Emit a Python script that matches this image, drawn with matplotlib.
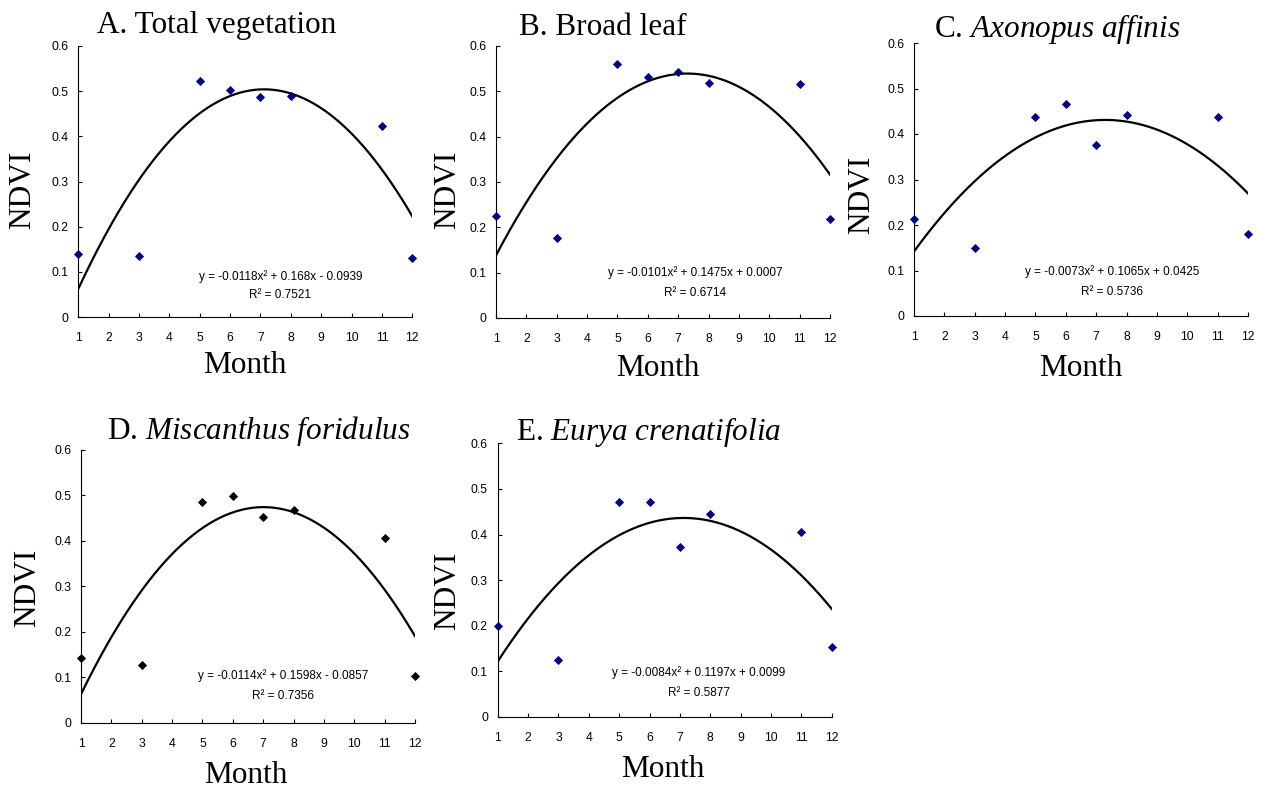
import numpy as np
import matplotlib
matplotlib.use('Agg')
import matplotlib.pyplot as plt

plt.rcParams['font.family'] = ['Liberation Sans', 'DejaVu Sans']
plt.rcParams['mathtext.fontset'] = 'custom'
plt.rcParams['mathtext.rm'] = 'Liberation Serif'
plt.rcParams['mathtext.it'] = 'Liberation Serif:italic'

# ---------------- data ----------------
months = [1, 3, 5, 6, 7, 8, 11, 12]
ndvi_total = [0.140, 0.136, 0.523, 0.502, 0.486, 0.490, 0.423, 0.130]
ndvi_broadleaf = [0.226, 0.176, 0.560, 0.532, 0.543, 0.519, 0.516, 0.218]
ndvi_axonopus = [0.213, 0.150, 0.437, 0.467, 0.375, 0.442, 0.437, 0.180]
ndvi_miscanthus = [0.142, 0.128, 0.485, 0.498, 0.452, 0.468, 0.406, 0.103]
ndvi_eurya = [0.200, 0.124, 0.472, 0.472, 0.372, 0.445, 0.405, 0.154]

coef_total = [-0.0118, 0.168, -0.0939]
coef_broadleaf = [-0.0101, 0.1475, 0.0007]
coef_axonopus = [-0.0073, 0.1065, 0.0425]
coef_miscanthus = [-0.0114, 0.1598, -0.0857]
coef_eurya = [-0.0084, 0.1197, 0.0099]

eq_total = "y = -0.0118x² + 0.168x - 0.0939"
eq_broadleaf = "y = -0.0101x² + 0.1475x + 0.0007"
eq_axonopus = "y = -0.0073x² + 0.1065x + 0.0425"
eq_miscanthus = "y = -0.0114x² + 0.1598x - 0.0857"
eq_eurya = "y = -0.0084x² + 0.1197x + 0.0099"

r2_total = "R² = 0.7521"
r2_broadleaf = "R² = 0.6714"
r2_axonopus = "R² = 0.5736"
r2_miscanthus = "R² = 0.7356"
r2_eurya = "R² = 0.5877"

titles = ["A. Total vegetation",
          "B. Broad leaf",
          "C. $\\mathit{Axonopus\\ affinis}$",
          "D. $\\mathit{Miscanthus\\ foridulus}$",
          "E. $\\mathit{Eurya\\ crenatifolia}$"]

x_ticks = list(range(1, 13))
y_ticks = [0, 0.1, 0.2, 0.3, 0.4, 0.5, 0.6]
y_ticklabels = ["0", "0.1", "0.2", "0.3", "0.4", "0.5", "0.6"]

# ---------------- layout ----------------
W, H = 1268, 791
fig = plt.figure(figsize=(W / 100, H / 100), dpi=100)

panels = [
    # (left px, top px, bottom px, values, coefs, eq, r2, color, eq pos, title pos, ndvi pos, month pos)
    dict(l=78.3, t=46, b=317, v=ndvi_total, c=coef_total, eq=eq_total, r2=r2_total, col='#000080',
         eqp=(0.605, 0.148, 0.081), tp=(216.7, 33.3), np_=(23, 190), mp=(245, 373)),
    dict(l=496, t=46, b=318, v=ndvi_broadleaf, c=coef_broadleaf, eq=eq_broadleaf, r2=r2_broadleaf, col='#000080',
         eqp=(0.596, 0.167, 0.093), tp=(602.5, 35), np_=(447.5, 190), mp=(658, 376)),
    dict(l=914, t=43, b=316, v=ndvi_axonopus, c=coef_axonopus, eq=eq_axonopus, r2=r2_axonopus, col='#000080',
         eqp=(0.593, 0.162, 0.089), tp=(1057, 36.7), np_=(862, 195), mp=(1081, 376)),
    dict(l=81, t=450, b=722.7, v=ndvi_miscanthus, c=coef_miscanthus, eq=eq_miscanthus, r2=r2_miscanthus, col='#000000',
         eqp=(0.605, 0.171, 0.098), tp=(259, 439.3), np_=(28, 587.5), mp=(246, 783)),
    dict(l=497.7, t=443.4, b=716.7, v=ndvi_eurya, c=coef_eurya, eq=eq_eurya, r2=r2_eurya, col='#000080',
         eqp=(0.602, 0.161, 0.088), tp=(649, 440), np_=(447.5, 591), mp=(662.5, 776.7)),
]

axw = 334
xs = np.linspace(1, 12, 300)
for p, title in zip(panels, titles):
    ax = fig.add_axes([p['l'] / W, 1 - p['b'] / H, axw / W, (p['b'] - p['t']) / H])
    ax.plot(xs, np.polyval(p['c'], xs), color='black', lw=1.6, zorder=2)
    ax.plot(months, p['v'], linestyle='none', marker='D', ms=4.0, mew=0.6,
            mfc=p['col'], mec=p['col'], clip_on=False, zorder=3)
    ax.set_xlim(1, 12)
    ax.set_ylim(0, 0.6)
    ax.set_xticks(x_ticks)
    ax.set_yticks(y_ticks)
    ax.set_yticklabels(y_ticklabels)
    for s in ['top', 'right']:
        ax.spines[s].set_visible(False)
    for s in ['left', 'bottom']:
        ax.spines[s].set_linewidth(0.8)
    ax.tick_params(axis='both', direction='in', length=3, width=0.8, labelsize=8.7)
    ax.tick_params(axis='x', pad=11)
    ax.tick_params(axis='y', pad=7)
    ax.patch.set_alpha(0)
    ex, ey, ry = p['eqp']
    ax.text(ex, ey, p['eq'], transform=ax.transAxes, ha='center', va='center', fontsize=8.5)
    ax.text(ex, ry, p['r2'], transform=ax.transAxes, ha='center', va='center', fontsize=8.5)

    fig.text(p['tp'][0] / W, 1 - p['tp'][1] / H, title, ha='center', va='baseline',
             fontsize=22.5, family='Liberation Serif')
    fig.text(p['np_'][0] / W, 1 - p['np_'][1] / H, "NDVI", ha='center', va='center', rotation=90,
             fontsize=22.5, family='Liberation Serif')
    fig.text(p['mp'][0] / W, 1 - p['mp'][1] / H, "Month", ha='center', va='baseline',
             fontsize=22.5, family='Liberation Serif')

fig.savefig('out.png', dpi=100)
